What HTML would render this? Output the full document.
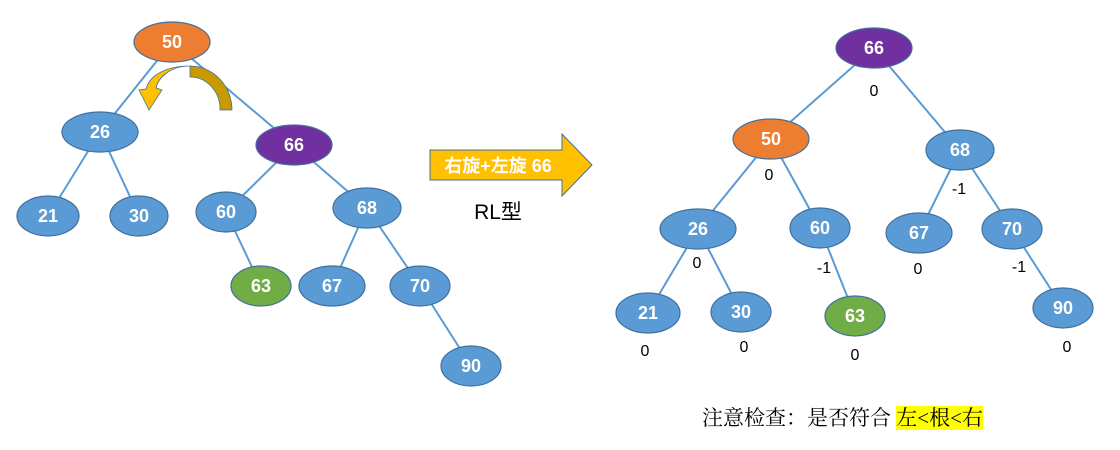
<!DOCTYPE html>
<html><head><meta charset="utf-8"><style>
body{margin:0;background:#fff;width:1120px;height:450px;overflow:hidden;position:relative;font-family:"Liberation Sans","Noto Sans CJK SC",sans-serif}
svg{position:absolute;left:0;top:0}
.note{position:absolute;left:702px;top:404px;font-size:21px;line-height:29px;color:#000;white-space:nowrap;font-family:"Liberation Serif","Noto Serif CJK SC",serif}
.note span{background:#ffff00}
</style></head><body>
<svg width="1120" height="450" xmlns="http://www.w3.org/2000/svg">
<g stroke="#5b9bd5" stroke-width="2">
<line x1="172" y1="42" x2="100" y2="132"/><line x1="172" y1="42" x2="294" y2="145"/>
<line x1="100" y1="132" x2="48" y2="216"/><line x1="100" y1="132" x2="139" y2="216"/>
<line x1="294" y1="145" x2="226" y2="212"/><line x1="294" y1="145" x2="367" y2="208"/>
<line x1="226" y1="212" x2="261" y2="286"/><line x1="367" y1="208" x2="332" y2="286"/>
<line x1="367" y1="208" x2="420" y2="286"/><line x1="420" y1="286" x2="471" y2="366"/>
<line x1="874" y1="48" x2="771" y2="139"/><line x1="874" y1="48" x2="960" y2="150"/>
<line x1="771" y1="139" x2="698" y2="229"/><line x1="771" y1="139" x2="820" y2="228"/>
<line x1="960" y1="150" x2="919" y2="233"/><line x1="960" y1="150" x2="1012" y2="229"/>
<line x1="698" y1="229" x2="648" y2="313"/><line x1="698" y1="229" x2="741" y2="312"/>
<line x1="820" y1="228" x2="855" y2="316"/><line x1="1012" y1="229" x2="1063" y2="308"/>
</g>
<g stroke="#41719c" stroke-width="1.2">
<ellipse cx="172" cy="42" rx="38" ry="20" fill="#ed7d31"/>
<ellipse cx="100" cy="132" rx="38" ry="20" fill="#5b9bd5"/>
<ellipse cx="294" cy="145" rx="38" ry="20" fill="#7030a0"/>
<ellipse cx="48" cy="216" rx="31" ry="20" fill="#5b9bd5"/>
<ellipse cx="139" cy="216" rx="29" ry="20" fill="#5b9bd5"/>
<ellipse cx="226" cy="212" rx="30" ry="20" fill="#5b9bd5"/>
<ellipse cx="367" cy="208" rx="34" ry="20" fill="#5b9bd5"/>
<ellipse cx="261" cy="286" rx="30" ry="20" fill="#70ad47"/>
<ellipse cx="332" cy="286" rx="33" ry="20" fill="#5b9bd5"/>
<ellipse cx="420" cy="286" rx="30" ry="20" fill="#5b9bd5"/>
<ellipse cx="471" cy="366" rx="30" ry="20" fill="#5b9bd5"/>
<ellipse cx="874" cy="48" rx="38" ry="20" fill="#7030a0"/>
<ellipse cx="771" cy="139" rx="38" ry="20" fill="#ed7d31"/>
<ellipse cx="960" cy="150" rx="34" ry="20" fill="#5b9bd5"/>
<ellipse cx="698" cy="229" rx="38" ry="20" fill="#5b9bd5"/>
<ellipse cx="820" cy="228" rx="30" ry="20" fill="#5b9bd5"/>
<ellipse cx="919" cy="233" rx="33" ry="20" fill="#5b9bd5"/>
<ellipse cx="1012" cy="229" rx="30" ry="20" fill="#5b9bd5"/>
<ellipse cx="648" cy="313" rx="32" ry="20" fill="#5b9bd5"/>
<ellipse cx="741" cy="312" rx="30" ry="20" fill="#5b9bd5"/>
<ellipse cx="855" cy="316" rx="30" ry="20" fill="#70ad47"/>
<ellipse cx="1063" cy="308" rx="30" ry="20" fill="#5b9bd5"/>
</g>
<g fill="#fff" font-size="18" font-weight="bold" text-anchor="middle" font-family="Liberation Sans, sans-serif">
<text x="172" y="48">50</text><text x="100" y="138">26</text><text x="294" y="151">66</text>
<text x="48" y="222">21</text><text x="139" y="222">30</text><text x="226" y="218">60</text>
<text x="367" y="214">68</text><text x="261" y="292">63</text><text x="332" y="292">67</text>
<text x="420" y="292">70</text><text x="471" y="372">90</text>
<text x="874" y="54">66</text><text x="771" y="145">50</text><text x="960" y="156">68</text>
<text x="698" y="235">26</text><text x="820" y="234">60</text><text x="919" y="239">67</text>
<text x="1012" y="235">70</text><text x="648" y="319">21</text><text x="741" y="318">30</text>
<text x="855" y="322">63</text><text x="1063" y="314">90</text>
</g>
<g fill="#000" font-size="16" text-anchor="middle" font-family="Liberation Sans, sans-serif">
<text x="874" y="96">0</text><text x="769" y="180">0</text><text x="959" y="194">-1</text>
<text x="697" y="268">0</text><text x="824" y="273">-1</text><text x="918" y="274">0</text>
<text x="1019" y="272">-1</text><text x="645" y="356">0</text><text x="744" y="352">0</text>
<text x="855" y="360">0</text><text x="1067" y="352">0</text>
</g>
<!-- curved arrow -->
<path d="M190 66 A42 44 0 0 1 232 110 L220 110 A30 32 0 0 0 190 77 Z" fill="#c99a00" stroke="#41719c" stroke-width="0.8"/>
<path d="M190 66 C170 66 158 78 156 88 L162 90 L149 110 L139 90 L146 89 C150 74 168 66 190 66 Z" fill="#ffc000" stroke="#41719c" stroke-width="0.8"/>
<!-- big arrow -->
<polygon points="430,150 562,150 562,134 592,165 562,196 562,180 430,180" fill="#ffc000" stroke="#41719c" stroke-width="1"/>
<text x="498" y="172" fill="#fff" font-size="18" font-weight="bold" text-anchor="middle" font-family="Liberation Sans, Noto Sans CJK SC, sans-serif">右旋+左旋 66</text>
<text x="498" y="219" fill="#000" font-size="21" text-anchor="middle" font-family="Liberation Sans, Noto Sans CJK SC, sans-serif">RL型</text>
</svg>
<div class="note">注意检查：是否符合 <span>左&lt;根&lt;右</span></div>
</body></html>
